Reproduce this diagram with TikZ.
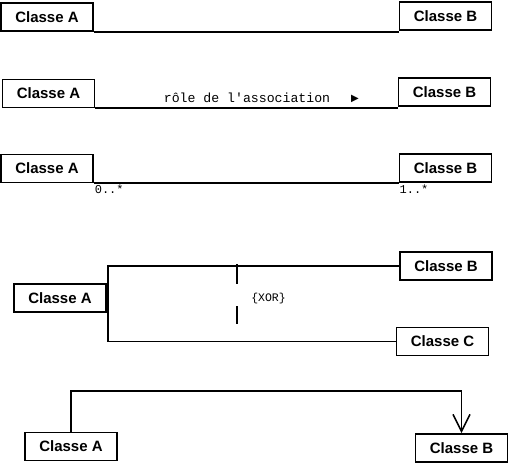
\documentclass[tikz,border=0pt]{standalone}
\usepackage{fontspec}
\setmainfont{Liberation Sans}
\setmonofont{Liberation Mono}
\newfontfamily\symfont{DejaVu Sans}
\usetikzlibrary{arrows.meta}
\tikzset{
  classbox/.style={draw, line width=1.7pt, minimum width=92pt, minimum height=28pt,
    inner sep=0.75pt, font=\fontsize{15}{18}\selectfont\bfseries},
  assoc/.style={line width=1.8pt},
  multlabel/.style={anchor=north west, inner sep=0.75pt, font=\fontsize{12}{13}\ttfamily}
}
\begin{document}
\begin{tikzpicture}[x=1pt,y=1pt,yscale=-1]
\useasboundingbox (0,0) rectangle (510,465);

%Simple association
\node[classbox] (a1) at (47,17) {Classe A};
\node[classbox] (b1) at (445.5,16) {Classe B};
\draw[assoc] (a1.south east) -- (a1.south east -| b1.west);

%Named association
\node[classbox] (a2) at (48.5,93.5) {Classe A};
\node[classbox] (b2) at (444.5,92) {Classe B};
\draw[assoc] (a2.south east) -- (a2.south east -| b2.west);
% Text Node
\node[inner sep=0.75pt, font=\fontsize{13.2}{15}\ttfamily] (role) at (247,98) {rôle de l'association};
\node[inner sep=0pt, font=\fontsize{10}{11}\symfont] (dir) at (355,98.5) {▶};

%Multiplicities
\node[classbox] (a3) at (47,168.5) {Classe A};
\node[classbox] (b3) at (445.5,168) {Classe B};
\draw[assoc] (a3.south east) -- (a3.south east -| b3.west);
\node[multlabel] (m1) at ([yshift=1pt]a3.south east) {0..*};
\node[multlabel] (m2) at ([yshift=1pt]a3.south east -| b3.west) {1..*};

%XOR constraint
\node[classbox] (a4) at (60,298) {Classe A};
\node[classbox] (b4) at (446,266) {Classe B};
\node[classbox] (c4) at (442.5,341.5) {Classe C};
\draw[assoc] (b4.west) -- ([xshift=1pt]b4.west -| a4.east) -- ([xshift=1pt]c4.west -| a4.east) -- (c4.west);
\coordinate (xtop) at (237,264);
\coordinate (xbot) at (237,324);
\draw[assoc, dash pattern=on 20pt off 22pt] (xtop) -- (xbot);
% Text Node
\node[inner sep=0.75pt, font=\fontsize{11.5}{13}\ttfamily] (xor) at (268.5,299) {\{XOR\}};

%Navigable association
\node[classbox] (a5) at (71,446.5) {Classe A};
\node[classbox] (b5) at (461.5,448) {Classe B};
\coordinate (bend) at (0,391);
\draw[assoc, -{Straight Barb[length=17pt, width=17pt, line width=1.6pt]}]
  (a5.north) -- (a5.north |- bend) -- (b5.north |- bend) -- (b5.north);

\end{tikzpicture}
\end{document}
